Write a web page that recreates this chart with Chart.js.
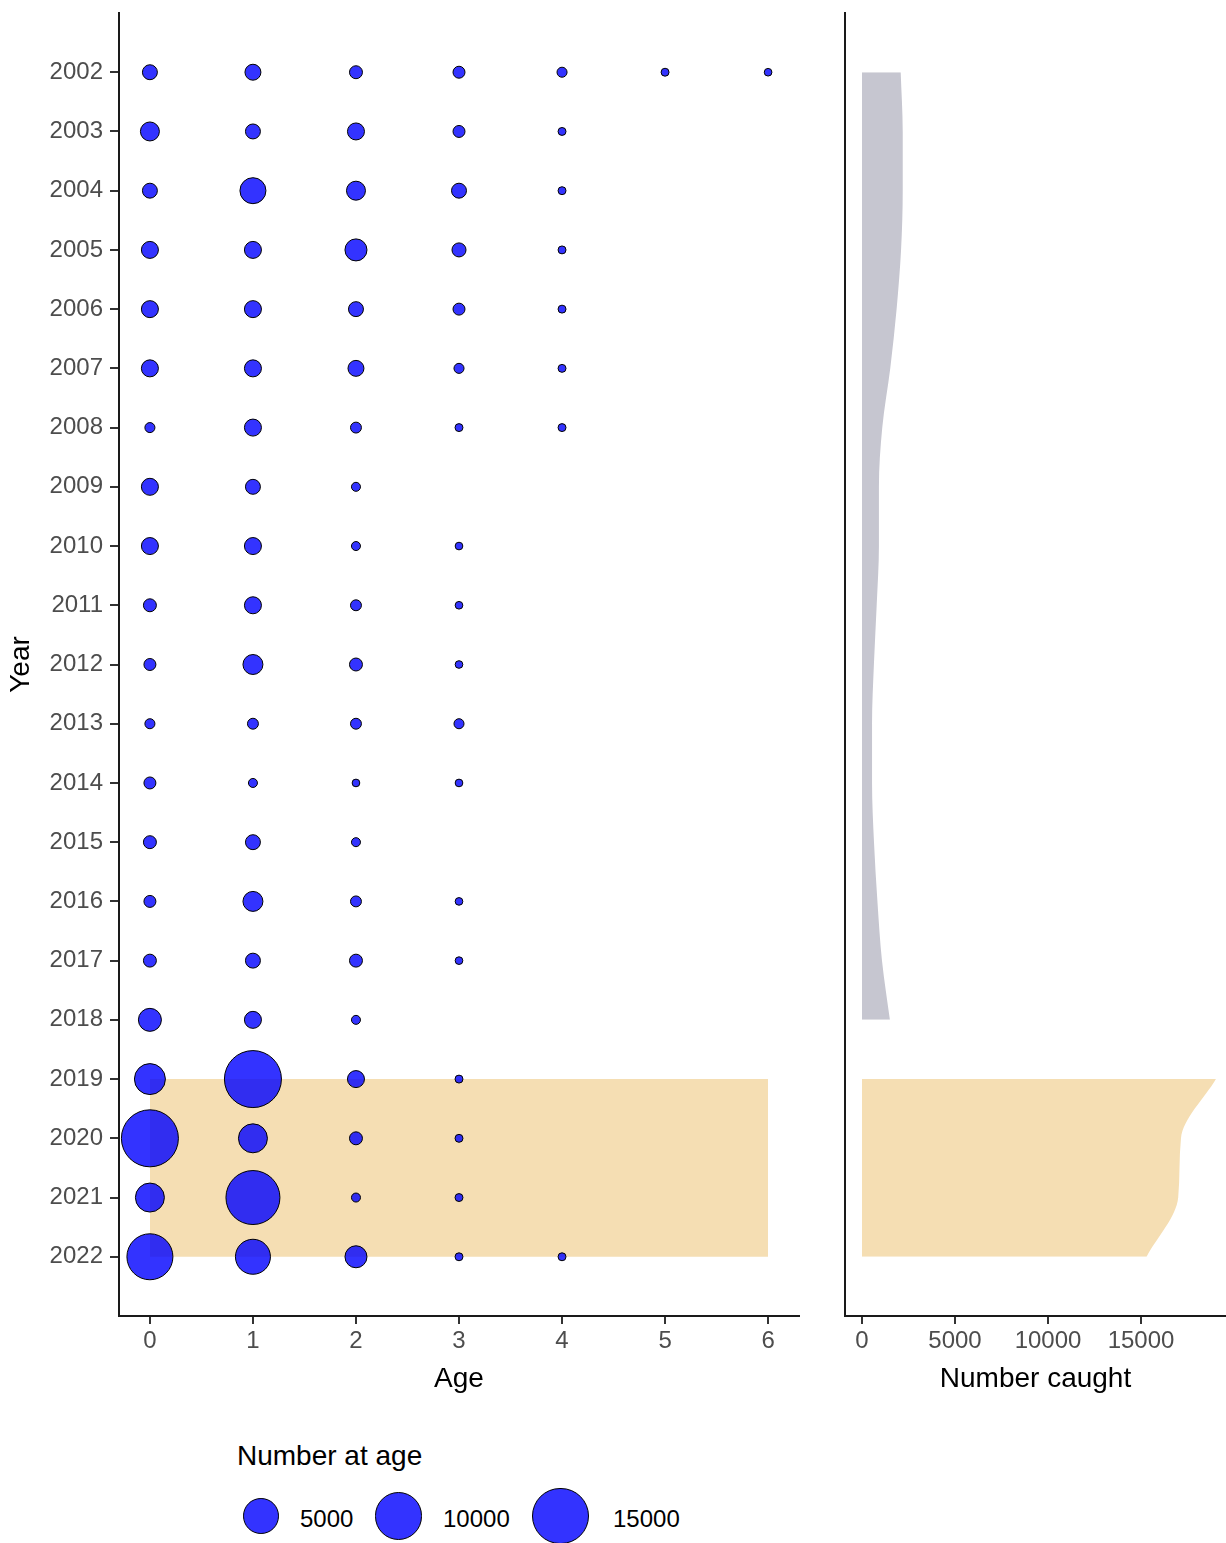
<!DOCTYPE html>
<html>
<head>
<meta charset="utf-8">
<script src="https://cdn.jsdelivr.net/npm/chart.js@4.4.1/dist/chart.umd.min.js"></script>
<style>
html,body{margin:0;padding:0;background:#fff;width:1226px;height:1543px;overflow:hidden;font-family:"Liberation Sans",Arial,sans-serif;}
#left{position:absolute;left:0;top:0;}
#right{position:absolute;left:830px;top:0;}
.lg-title{position:absolute;left:237px;top:1442px;font-size:28px;line-height:28px;color:#000;white-space:nowrap;}
.lg-key{position:absolute;box-sizing:border-box;border:1px solid #000;border-radius:50%;background:rgba(0,0,255,0.8);}
.lg-lab{position:absolute;font-size:24px;line-height:24px;color:#000;white-space:nowrap;}
</style>
</head>
<body>
<canvas id="left" width="820" height="1400"></canvas>
<canvas id="right" width="396" height="1400"></canvas>
<div id="legend"><div class="lg-title">Number at age</div></div>
<script>
// ---------------- DATA ----------------
const years = [2002,2003,2004,2005,2006,2007,2008,2009,2010,2011,2012,2013,2014,2015,2016,2017,2018,2019,2020,2021,2022];
const ages = [0,1,2,3,4,5,6];

// Number at age (one array per age, ordered by year; null = no observation)
const numAge0 = [410,930,410,650,650,650,60,650,650,230,160,60,160,230,160,230,1660,3730,16190,3130,9850];
const numAge1 = [520,410,2340,650,650,650,650,410,650,650,1090,100,26,410,1090,410,650,16190,3130,14300,5080];
const numAge2 = [230,650,930,1460,410,520,100,26,26,100,230,100,3,26,100,230,26,650,230,26,1460];
const numAge3 = [160,160,410,320,160,60,6,null,3,3,3,60,3,null,3,3,null,6,6,6,6];
const numAge4 = [60,6,6,6,6,6,6,null,null,null,null,null,null,null,null,null,null,null,null,null,6];
const numAge5 = [6,null,null,null,null,null,null,null,null,null,null,null,null,null,null,null,null,null,null,null,null];
const numAge6 = [3,null,null,null,null,null,null,null,null,null,null,null,null,null,null,null,null,null,null,null,null];

// Number caught per year (right panel)
const caughtYearsBefore = [2002,2003,2004,2005,2006,2007,2008,2009,2010,2011,2012,2013,2014,2015,2016,2017,2018];
const caughtBefore = [2080,2190,2190,2100,1860,1520,1090,910,910,790,640,540,540,645,830,1075,1500];
const caughtYearsRecent = [2019,2020,2021,2022];
const caughtRecent = [19030,17150,17000,15300];

// Highlighted period (shaded band in left panel)
const highlightAges = [0,6];
const highlightYears = [2019,2022];

// Tick labels / legend breaks
const ageTicks = [0,1,2,3,4,5,6];
const caughtTicks = [0,5000,10000,15000];
const legendValues = [5000,10000,15000];

// ---------------- SIZE SCALE ----------------
const SIZE_MIN = 8, SIZE_K = 0.393;
function diameter(v){ return SIZE_MIN + SIZE_K*Math.sqrt(v); }

const numbersByAge = [numAge0,numAge1,numAge2,numAge3,numAge4,numAge5,numAge6];
const bubbleData = [];
years.forEach((yr,i)=>{
  ages.forEach((a,j)=>{
    const v = numbersByAge[j][i];
    if (v !== null && v !== undefined) bubbleData.push({x:a, y:yr, r: diameter(v)/2 - 0.5});
  });
});

Chart.defaults.font.family = '"Liberation Sans", Arial, sans-serif';

const tickFont = {size:24};
const titleFont = {size:28};
const gridTicks = (len)=>({drawOnChartArea:false, drawTicks:true, tickLength:len, color:'#333333', lineWidth:2});
const axisBorder = {display:true, color:'#1a1a1a', width:2};
function fixSize(prop, val){
  return ax=>{ ax[prop] = val; ax.paddingTop = 0; ax.paddingBottom = 0; ax.paddingLeft = 0; ax.paddingRight = 0; };
}

// ---------------- LEFT PANEL ----------------
new Chart(document.getElementById('left'), {
  type:'bubble',
  data:{datasets:[
    {type:'bubble', data:bubbleData, backgroundColor:'rgba(0,0,255,0.8)', borderColor:'#000', borderWidth:1, order:0, clip:false},
    {type:'line', data:highlightAges.map(a=>({x:a, y:highlightYears[0]})), fill:'+1', backgroundColor:'#F5DEB3', borderColor:'rgba(0,0,0,0)', borderWidth:0, pointRadius:0, order:1},
    {type:'line', data:highlightAges.map(a=>({x:a, y:highlightYears[1]})), fill:false, backgroundColor:'#F5DEB3', borderColor:'rgba(0,0,0,0)', borderWidth:0, pointRadius:0, order:2}
  ]},
  options:{
    responsive:false, animation:false, devicePixelRatio:1, events:[],
    layout:{autoPadding:false, padding:{top:13,right:21,left:0,bottom:0}},
    plugins:{legend:{display:false}, tooltip:{enabled:false}},
    scales:{
      x:{type:'linear', min:-0.3, max:6.3,
        afterBuildTicks:ax=>{ax.ticks = ageTicks.map(v=>({value:v}));},
        afterFit:fixSize('height',84),
        ticks:{color:'#4D4D4D', font:tickFont, padding:3, maxRotation:0, autoSkip:false, callback:v=>String(v)},
        grid:gridTicks(8), border:axisBorder,
        title:{display:true, text:'Age', color:'#000', font:titleFont, padding:{top:0,bottom:4}}
      },
      y:{type:'linear', reverse:true, min:2001, max:2023,
        afterBuildTicks:ax=>{ax.ticks = years.map(v=>({value:v}));},
        afterFit:fixSize('width',119),
        ticks:{color:'#4D4D4D', font:tickFont, padding:7, autoSkip:false, callback:v=>String(v)},
        grid:gridTicks(9), border:axisBorder,
        title:{display:true, text:'Year', color:'#000', font:titleFont, padding:{top:4,bottom:0}}
      }
    }
  }
});

// ---------------- RIGHT PANEL ----------------
new Chart(document.getElementById('right'), {
  type:'line',
  data:{datasets:[
    {data:caughtYearsBefore.map((y,i)=>({x:caughtBefore[i], y:y})), fill:'origin', backgroundColor:'#C6C6D0', borderColor:'rgba(0,0,0,0)', borderWidth:0, pointRadius:0, cubicInterpolationMode:'monotone'},
    {data:caughtYearsRecent.map((y,i)=>({x:caughtRecent[i], y:y})), fill:'origin', backgroundColor:'#F5DEB3', borderColor:'rgba(0,0,0,0)', borderWidth:0, pointRadius:0, cubicInterpolationMode:'monotone'}
  ]},
  options:{
    indexAxis:'y',
    responsive:false, animation:false, devicePixelRatio:1, events:[],
    layout:{autoPadding:false, padding:{top:13,right:0,left:0,bottom:0}},
    plugins:{legend:{display:false}, tooltip:{enabled:false}},
    scales:{
      x:{type:'linear', min:-914, max:19570,
        afterBuildTicks:ax=>{ax.ticks = caughtTicks.map(v=>({value:v}));},
        afterFit:fixSize('height',84),
        ticks:{color:'#4D4D4D', font:tickFont, padding:3, maxRotation:0, autoSkip:false, callback:v=>String(v)},
        grid:gridTicks(8), border:axisBorder,
        title:{display:true, text:'Number caught', color:'#000', font:titleFont, padding:{top:0,bottom:4}}
      },
      y:{type:'linear', reverse:true, min:2001, max:2023,
        afterFit:fixSize('width',15),
        ticks:{display:false}, grid:{display:false}, border:axisBorder
      }
    }
  }
});

// ---------------- LEGEND ----------------
const legend = document.getElementById('legend');
const keyCentersX = [261, 398.5, 560.5];
const labelLeftX = [300, 443, 613];
const keyCenterY = 1516;
legendValues.forEach((v,i)=>{
  const d = diameter(v);
  const k = document.createElement('div');
  k.className = 'lg-key';
  k.style.width = d+'px'; k.style.height = d+'px';
  k.style.left = (keyCentersX[i]-d/2)+'px'; k.style.top = (keyCenterY-d/2)+'px';
  legend.appendChild(k);
  const l = document.createElement('div');
  l.className = 'lg-lab';
  l.textContent = String(v);
  l.style.left = labelLeftX[i]+'px'; l.style.top = '1507px';
  legend.appendChild(l);
});
</script>
</body>
</html>
